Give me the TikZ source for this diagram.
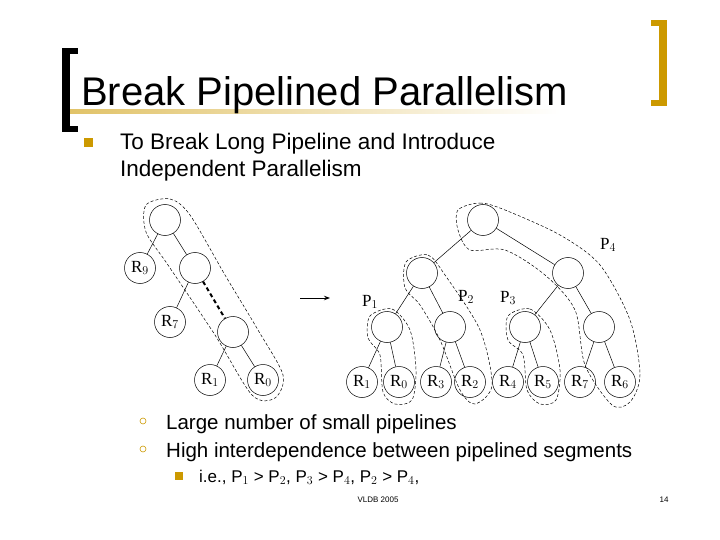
\documentclass[tikz,border=0pt]{standalone}
\usepackage{fontspec}
\setmainfont{Liberation Sans}
\newfontfamily\serifR{Liberation Serif}
\usetikzlibrary{arrows.meta}
\definecolor{gold}{RGB}{204,153,0}
\begin{document}
\begin{tikzpicture}[x=1pt,y=-1pt,
  tn/.style={circle,draw,line width=0.5pt,minimum size=31pt,inner sep=0pt,font=\serifR\fontsize{17}{17}\selectfont},
  ed/.style={line width=0.5pt},
  hull/.style={line width=0.5pt,dash pattern=on 3pt off 2pt},
  lab/.style={font=\serifR\fontsize{17}{17}\selectfont,inner sep=0pt},
  body/.style={anchor=base west,inner sep=0pt,font=\fontsize{20.5}{24}\selectfont}]
\useasboundingbox (0,0) rectangle (720,540);
\fill[white] (0,0) rectangle (720,540);
% title decoration
\shade[left color=gold!60!white,right color=white] (62,110) rectangle (560,114);
\fill[black] (62,48) rectangle (70,132);
\fill[black] (62,48) rectangle (78,54);
\fill[black] (62,126) rectangle (78,132);
\fill[gold] (659,20) rectangle (667,106);
\fill[gold] (651,20) rectangle (667,26);
\fill[gold] (651,100) rectangle (667,106);
\node[anchor=base west,inner sep=0pt,font=\fontsize{40}{44}\selectfont] (title) at (81,106) {Break Pipelined Parallelism};
\fill[gold] (84,138) rectangle (93,147) coordinate (b1);
\node[body,font=\fontsize{22.5}{26}\selectfont] (t1) at (120,150) {To Break Long Pipeline and Introduce};
\node[body,font=\fontsize{22.5}{26}\selectfont] (t2) at (120,177) {Independent Parallelism};
% left tree
\node[tn] (a) at (165,220) {};
\node[tn] (r9) at (140,268) {R$_9$};
\node[tn] (b) at (195,268) {};
\node[tn] (r7) at (170,322) {R$_7$};
\node[tn] (c) at (233,332) {};
\node[tn] (l1) at (210,380) {R$_1$};
\node[tn] (l0) at (263,380) {R$_0$};
\draw[ed] (a)--(r9); \draw[ed] (a)--(b); \draw[ed] (b)--(r7);
\draw[line width=2pt,dash pattern=on 4pt off 3pt] (b)--(c);
\draw[ed] (c)--(l1); \draw[ed] (c)--(l0);
\draw[hull] plot[smooth cycle] coordinates {(146,205) (170,199) (190,215) (225,275) (258,330) (283,375) (275,398) (252,395) (215,335) (168,265) (146,232)};
% arrow
\coordinate (ar1) at (300,298); \coordinate (ar2) at (330,298);
\draw[line width=1pt,-{Stealth[length=6pt]}] (ar1)--(ar2);
% right tree
\node[tn] (R) at (483,220) {};
\node[tn] (L) at (422,273) {};
\node[tn] (Rr) at (568,273) {};
\node[tn] (m1) at (387,327) {};
\node[tn] (m2) at (450,327) {};
\node[tn] (m3) at (525,327) {};
\node[tn] (m4) at (599,327) {};
\node[tn] (x1) at (362,382) {R$_1$};
\node[tn] (x0) at (399,382) {R$_0$};
\node[tn] (x3) at (436,382) {R$_3$};
\node[tn] (x2) at (470,382) {R$_2$};
\node[tn] (x4) at (508,382) {R$_4$};
\node[tn] (x5) at (543,382) {R$_5$};
\node[tn] (x7) at (580,382) {R$_7$};
\node[tn] (x6) at (620,382) {R$_6$};
\foreach \p/\q in {R/L,R/Rr,L/m1,L/m2,Rr/m3,Rr/m4,m1/x1,m1/x0,m2/x3,m2/x2,m3/x4,m3/x5,m4/x7,m4/x6}
  \draw[ed] (\p)--(\q);
\draw[hull] plot[smooth cycle] coordinates {(370,316) (392,309) (410,330) (416,370) (412,400) (395,404) (383,392) (380,355) (368,338)};
\draw[hull] plot[smooth cycle] coordinates {(406,262) (428,255) (445,275) (480,330) (492,385) (475,404) (460,390) (440,340) (420,305) (405,288)};
\draw[hull] plot[smooth cycle] coordinates {(508,316) (530,309) (550,330) (560,370) (556,400) (540,404) (527,390) (523,355) (508,340)};
\draw[hull] plot[smooth cycle] coordinates {(458,210) (480,203) (505,210) (560,235) (600,265) (630,320) (640,375) (630,402) (612,405) (585,365) (575,310) (545,275) (505,250) (470,250) (458,230)};
\node[lab] (p4) at (608,245) {P$_4$};
\node[lab] (p2) at (466,297) {P$_2$};
\node[lab] (p3) at (508,298) {P$_3$};
\node[lab] (p1) at (370,302) {P$_1$};
% bottom bullets
\draw[gold,line width=0.6pt] (143,421) circle (3pt);
\draw[gold,line width=0.6pt] (143,449) circle (3pt);
\node[body] (b2) at (166,429) {Large number of small pipelines};
\node[body] (b3) at (166,457) {High interdependence between pipelined segments};
\fill[gold] (175,472) rectangle (183,480);
\node[body,font=\fontsize{17}{19}\selectfont] (b4) at (199,482) {i.e., P$_1$ > P$_2$, P$_3$ > P$_4$, P$_2$ > P$_4$,};
\node[font=\fontsize{8}{10}\selectfont,inner sep=0pt] (ft) at (378,500) {VLDB 2005};
\node[font=\fontsize{8}{10}\selectfont,inner sep=0pt] (pg) at (664,500) {14};
\end{tikzpicture}
\end{document}
